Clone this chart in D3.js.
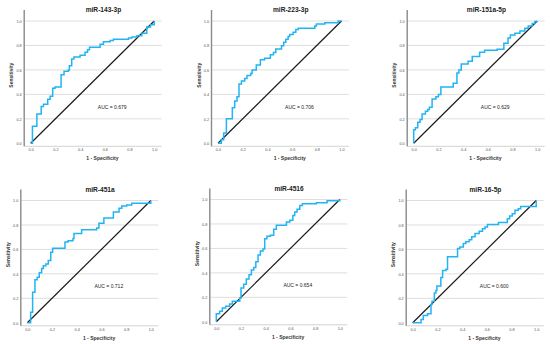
<!DOCTYPE html>
<html>
<head>
<meta charset="utf-8">
<script src="https://cdn.jsdelivr.net/npm/d3@7"></script>
<style>
  html, body { margin: 0; padding: 0; background: #fff; }
  svg { display: block; font-family: "Liberation Sans", Arial, sans-serif; }
</style>
</head>
<body>
<svg id="chart" width="550" height="344"></svg>
<script>
// panel titles and AUC values
const titles = ["miR-143-3p", "miR-223-3p", "miR-151a-5p", "miR-451a", "miR-4516", "miR-16-5p"];
const aucValues = ["0.679", "0.706", "0.629", "0.712", "0.654", "0.600"];
const tickValues = [0, 0.2, 0.4, 0.6, 0.8, 1.0];

// ROC points [1 - specificity, sensitivity]
const roc143 = [[0,0],[0.014,0.14],[0.05,0.24],[0.085,0.30],[0.103,0.32],[0.138,0.36],[0.157,0.385],[0.178,0.45],[0.197,0.46],[0.246,0.56],[0.27,0.59],[0.305,0.60],[0.313,0.635],[0.332,0.69],[0.35,0.705],[0.4,0.72],[0.44,0.745],[0.46,0.765],[0.476,0.785],[0.562,0.81],[0.589,0.83],[0.643,0.84],[0.67,0.85],[0.792,0.86],[0.819,0.87],[0.86,0.88],[0.9,0.9],[0.94,0.95],[0.97,0.97],[1,1]];
const roc223 = [[0,0],[0.027,0.03],[0.046,0.085],[0.068,0.2],[0.116,0.29],[0.135,0.345],[0.154,0.38],[0.17,0.485],[0.19,0.51],[0.216,0.53],[0.235,0.555],[0.265,0.57],[0.276,0.60],[0.31,0.64],[0.343,0.683],[0.378,0.696],[0.424,0.725],[0.449,0.743],[0.468,0.772],[0.514,0.797],[0.532,0.827],[0.549,0.85],[0.568,0.873],[0.58,0.89],[0.608,0.908],[0.63,0.93],[0.65,0.94],[0.784,0.96],[0.797,0.975],[0.865,0.986],[0.973,1.0],[1,1]];
const roc151 = [[0,0],[0,0.11],[0.014,0.127],[0.033,0.173],[0.051,0.195],[0.068,0.24],[0.095,0.263],[0.114,0.276],[0.127,0.295],[0.149,0.363],[0.18,0.38],[0.2,0.4],[0.22,0.46],[0.32,0.49],[0.35,0.575],[0.366,0.60],[0.385,0.648],[0.44,0.67],[0.474,0.71],[0.534,0.745],[0.574,0.76],[0.675,0.77],[0.73,0.818],[0.764,0.86],[0.783,0.886],[0.82,0.9],[0.86,0.918],[0.9,0.94],[0.927,0.96],[0.96,0.98],[0.98,0.995],[1,1]];
const roc451 = [[0,0],[0.027,0.087],[0.043,0.25],[0.062,0.353],[0.08,0.372],[0.097,0.41],[0.116,0.443],[0.13,0.467],[0.15,0.48],[0.17,0.51],[0.19,0.576],[0.205,0.61],[0.305,0.66],[0.33,0.67],[0.37,0.69],[0.378,0.73],[0.44,0.76],[0.562,0.775],[0.58,0.815],[0.62,0.856],[0.697,0.905],[0.743,0.937],[0.765,0.956],[0.805,0.964],[0.846,0.978],[1,1]];
const roc4516 = [[0,0],[0,0.065],[0.027,0.086],[0.049,0.113],[0.076,0.127],[0.108,0.146],[0.13,0.168],[0.19,0.195],[0.2,0.276],[0.222,0.308],[0.243,0.35],[0.265,0.384],[0.284,0.424],[0.303,0.443],[0.32,0.49],[0.338,0.546],[0.357,0.578],[0.378,0.595],[0.392,0.68],[0.41,0.70],[0.438,0.708],[0.465,0.757],[0.486,0.789],[0.568,0.816],[0.595,0.83],[0.62,0.87],[0.635,0.897],[0.654,0.92],[0.676,0.95],[0.697,0.965],[0.81,0.973],[0.897,0.99],[1,1]];
const roc16 = [[0,0],[0.068,0.027],[0.086,0.06],[0.12,0.073],[0.148,0.15],[0.156,0.176],[0.175,0.243],[0.188,0.265],[0.196,0.30],[0.228,0.37],[0.242,0.427],[0.27,0.438],[0.282,0.54],[0.363,0.608],[0.382,0.62],[0.41,0.648],[0.43,0.662],[0.457,0.68],[0.478,0.703],[0.505,0.73],[0.538,0.749],[0.565,0.77],[0.586,0.784],[0.605,0.803],[0.694,0.82],[0.766,0.851],[0.785,0.873],[0.806,0.892],[0.828,0.92],[0.855,0.932],[0.874,0.95],[0.98,0.95],[1,1]];

const curves = [roc143, roc223, roc151, roc451, roc4516, roc16];

// panel placement: left edge of the data range and top of it
const panelLeft = [30.7, 218, 413.7, 27.3, 216.3, 412.7];
const panelTop = [21, 21, 21, 200.5, 199.5, 200.5];
const plotW = 123.5;
const plotH = 122.3;

const svg = d3.select("#chart");

function drawPanel(i) {
  const x0 = panelLeft[i];
  const y0 = panelTop[i];
  const x = d3.scaleLinear().domain([0, 1]).range([x0, x0 + plotW]);
  const y = d3.scaleLinear().domain([0, 1]).range([y0 + plotH, y0]);

  const g = svg.append("g").attr("class", "panel");
  const frameLeft = x0 - 6.5;
  const frameRight = x0 + plotW + 7.5;
  const frameBottom = y0 + plotH + 3;

  // horizontal gridlines
  g.selectAll(".grid")
    .data(tickValues.filter(d => d > 0))
    .enter()
    .append("line")
    .attr("class", "grid")
    .attr("x1", frameLeft)
    .attr("x2", frameRight)
    .attr("y1", d => y(d))
    .attr("y2", d => y(d))
    .attr("stroke", "#dedede")
    .attr("stroke-width", 1);

  // bottom axis line
  g.append("line")
    .attr("x1", frameLeft)
    .attr("x2", frameRight)
    .attr("y1", frameBottom)
    .attr("y2", frameBottom)
    .attr("stroke", "#c8c8c8")
    .attr("stroke-width", 0.8);

  // left axis line
  g.append("line")
    .attr("x1", frameLeft)
    .attr("x2", frameLeft)
    .attr("y1", y0 - 11)
    .attr("y2", frameBottom)
    .attr("stroke", "#8a8a8a")
    .attr("stroke-width", 1.4);

  // tick labels through d3 axes
  const yAxis = d3.axisLeft(y).tickValues(tickValues).tickSize(0).tickPadding(0)
    .tickFormat(d3.format(".1f"));
  const yg = g.append("g").attr("transform", `translate(${frameLeft - 2.5},0)`).call(yAxis);
  yg.select(".domain").remove();
  yg.selectAll("text").attr("font-size", 3.8).attr("fill", "#555").attr("font-family", null);

  const xAxis = d3.axisBottom(x).tickValues(tickValues).tickSize(0).tickPadding(0)
    .tickFormat(d3.format(".1f"));
  const xg = g.append("g").attr("transform", `translate(0,${frameBottom + 2})`).call(xAxis);
  xg.select(".domain").remove();
  xg.selectAll("text").attr("font-size", 3.8).attr("fill", "#555").attr("font-family", null);

  // reference diagonal
  g.append("line")
    .attr("x1", x(0))
    .attr("y1", y(0))
    .attr("x2", x(1))
    .attr("y2", y(1))
    .attr("stroke", "#1a1a1a")
    .attr("stroke-width", 1.2);

  // ROC step curve
  const line = d3.line()
    .x(d => x(d[0]))
    .y(d => y(d[1]))
    .curve(d3.curveStepAfter);
  g.append("path")
    .datum(curves[i])
    .attr("d", line)
    .attr("fill", "none")
    .attr("stroke", "#22b4f2")
    .attr("stroke-width", 1.5);

  // title
  g.append("text")
    .attr("x", x(0.5) + 11)
    .attr("y", y0 - 9)
    .attr("text-anchor", "middle")
    .attr("font-size", 6.6)
    .attr("font-weight", "bold")
    .attr("fill", "#222")
    .text(titles[i]);

  // AUC annotation
  g.append("text")
    .attr("x", x(0.66))
    .attr("y", y(0.3) + 2)
    .attr("text-anchor", "middle")
    .attr("font-size", 5)
    .attr("fill", "#222")
    .text(`AUC = ${aucValues[i]}`);

  // axis titles
  g.append("text")
    .attr("x", x(0.5) + 10)
    .attr("y", frameBottom + 14)
    .attr("text-anchor", "middle")
    .attr("font-size", 5)
    .attr("font-weight", "bold")
    .attr("fill", "#333")
    .text("1 - Specificity");

  g.append("text")
    .attr("transform", `translate(${frameLeft - 11},${y(0.5) - 7}) rotate(-90)`)
    .attr("text-anchor", "middle")
    .attr("font-size", 5)
    .attr("font-weight", "bold")
    .attr("fill", "#333")
    .text("Sensitivity");
}

titles.forEach((t, i) => drawPanel(i));
</script>
</body>
</html>
